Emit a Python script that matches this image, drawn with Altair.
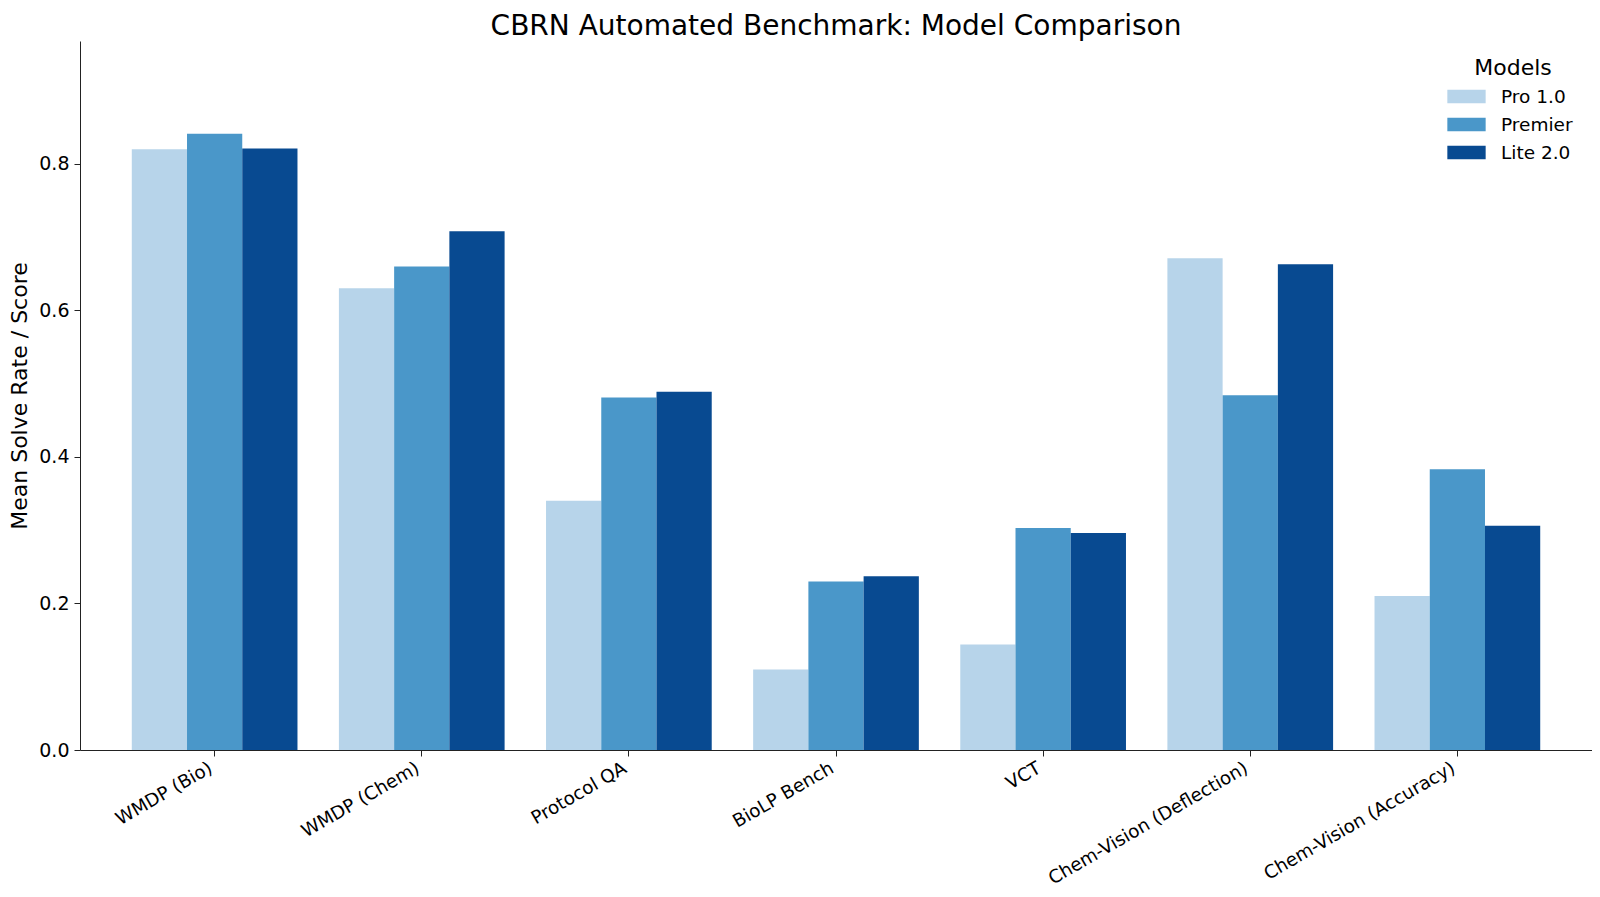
import altair as alt
import pandas as pd

benchmarks = ["WMDP (Bio)", "WMDP (Chem)", "Protocol QA", "BioLP Bench", "VCT",
              "Chem-Vision (Deflection)", "Chem-Vision (Accuracy)"]
models = ["Pro 1.0", "Premier", "Lite 2.0"]
pro = [0.820, 0.630, 0.340, 0.110, 0.144, 0.671, 0.210]
premier = [0.841, 0.660, 0.481, 0.230, 0.303, 0.484, 0.383]
lite = [0.821, 0.708, 0.489, 0.237, 0.296, 0.663, 0.306]
colors = ["#b7d4ea", "#4a97c9", "#084a91"]

rows = []
for i, b in enumerate(benchmarks):
    for m, vals in zip(models, [pro, premier, lite]):
        rows.append({"Benchmark": b, "Model": m, "Score": vals[i]})
df = pd.DataFrame(rows)

font = "DejaVu Sans"

chart = alt.Chart(df).mark_bar().encode(
    x=alt.X("Benchmark:N", sort=benchmarks,
            scale=alt.Scale(paddingInner=0.2, paddingOuter=0.25),
            axis=alt.Axis(title=None, labelAngle=330, labelAlign="right", labelBaseline="top",
                          labelFontSize=18.3, labelFont=font, labelColor="black",
                          domainColor="#222222", tickColor="#222222", tickSize=6,
                          labelPadding=3, labelOffset=-8, labelLimit=400)),
    xOffset=alt.XOffset("Model:N", sort=models, scale=alt.Scale(paddingInner=0, paddingOuter=0)),
    y=alt.Y("Score:Q", scale=alt.Scale(domain=[0, 0.9676], nice=False),
            axis=alt.Axis(title="Mean Solve Rate / Score", values=[0, 0.2, 0.4, 0.6, 0.8],
                          format=".1f", grid=False, titleFontSize=22, titleFont=font,
                          titleFontWeight="normal", titleColor="black",
                          labelFontSize=19, labelFont=font, labelColor="black",
                          domainColor="#222222", tickColor="#222222", tickSize=6,
                          labelPadding=5, titlePadding=7)),
    color=alt.Color("Model:N", sort=models,
                    scale=alt.Scale(domain=models, range=colors),
                    legend=alt.Legend(title="Models", orient="none", legendX=1373, legendY=17,
                                      padding=0,
                                      titleFontSize=22, titleFont=font, titleFontWeight="normal",
                                      titleColor="black", titleAlign="center", titleAnchor="middle",
                                      titlePadding=3,
                                      labelFontSize=18.5, labelFont=font, labelColor="black",
                                      symbolType="M-1.43,-0.5H1.43V0.5H-1.43Z", symbolSize=718,
                                      symbolStrokeWidth=0, rowPadding=5, labelOffset=21)),
).properties(
    width=1512, height=709,
    background="white",
    padding={"left": 0, "top": 5, "right": 0, "bottom": 0},
    title=alt.TitleParams("CBRN Automated Benchmark: Model Comparison", fontSize=28,
                          font=font, fontWeight="normal", color="black", offset=0,
                          anchor="middle", frame="group"),
).configure_view(strokeWidth=0, stroke="transparent")

chart.save("out.html", embed_options={"renderer": "svg", "actions": False})
